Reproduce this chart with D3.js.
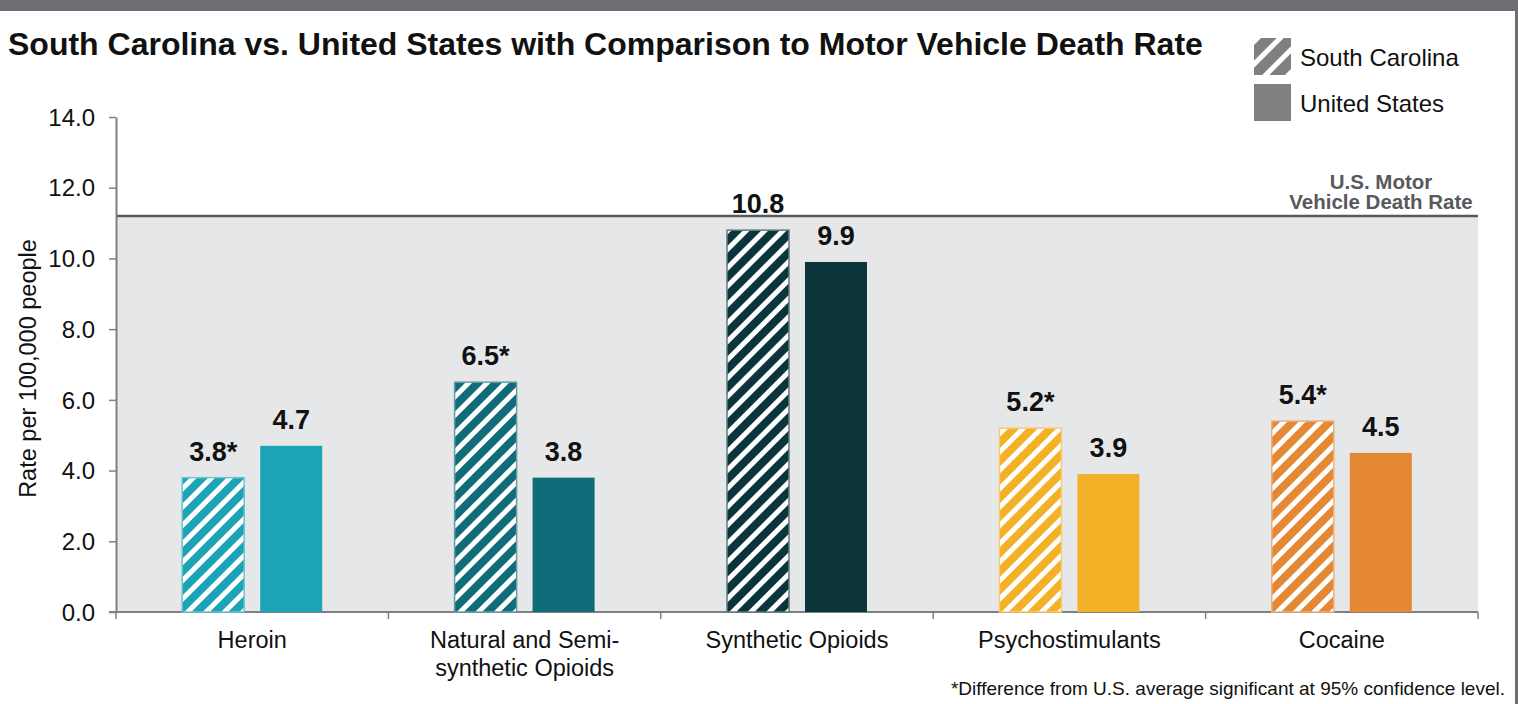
<!DOCTYPE html>
<html>
<head>
<meta charset="utf-8">
<script src="https://cdn.jsdelivr.net/npm/d3@7"></script>
<style>
  html, body { margin: 0; padding: 0; background: #fff; }
  svg { display: block; font-family: "Liberation Sans", Arial, sans-serif; }
</style>
</head>
<body>
<svg id="chart" width="1518" height="704"></svg>
<script>
// Drug overdose death rates per 100,000 people
const categories = ["Heroin", "Natural and Semi-synthetic Opioids", "Synthetic Opioids", "Psychostimulants", "Cocaine"];
const categoryLines = [["Heroin"], ["Natural and Semi-", "synthetic Opioids"], ["Synthetic Opioids"], ["Psychostimulants"], ["Cocaine"]];
const series = ["South Carolina", "United States"];
const southCarolina = [3.8, 6.5, 10.8, 5.2, 5.4];
const unitedStates = [4.7, 3.8, 9.9, 3.9, 4.5];
const significant = [true, true, false, true, true];
const categoryColors = ["#1ca4b6", "#106c78", "#0b343b", "#f2b126", "#e48834"];
const motorVehicleRate = 11.2;
const yTicks = [0, 2, 4, 6, 8, 10, 12, 14];

const svg = d3.select("#chart");
const W = 1518, H = 704;
const plot = { left: 116, right: 1478, top: 117, bottom: 612 };

// frame: dark band along the top and a thin edge on the right
svg.append("rect").attr("x", 0).attr("y", 0).attr("width", W).attr("height", 11).attr("fill", "#6d6e71");
svg.append("rect").attr("x", 1515).attr("y", 0).attr("width", 3).attr("height", H).attr("fill", "#6d6e71");

const x0 = d3.scaleBand().domain(categories).range([plot.left, plot.right]).paddingInner(0).paddingOuter(0);
const groupW = 140;
const x1 = d3.scaleBand().domain(series)
  .range([(x0.bandwidth() - groupW) / 2, (x0.bandwidth() + groupW) / 2])
  .paddingInner(0.205).paddingOuter(0);
const y = d3.scaleLinear().domain([0, 14]).range([plot.bottom, plot.top]);

// hatch patterns, one per colour
const defs = svg.append("defs");
function hatch(id, color, period, stripe) {
  const p = defs.append("pattern").attr("id", id).attr("patternUnits", "userSpaceOnUse")
    .attr("width", period).attr("height", period).attr("patternTransform", "rotate(45)");
  p.append("rect").attr("width", period).attr("height", period).attr("fill", color);
  p.append("rect").attr("x", 0).attr("width", stripe).attr("height", period).attr("fill", "#fff");
}
categoryColors.forEach((c, i) => hatch("hatch" + i, c, 13, 5));
hatch("hatchLegend", "#808080", 16, 5);

// shaded band under the motor vehicle death rate
svg.append("rect")
  .attr("x", plot.left).attr("y", y(motorVehicleRate))
  .attr("width", plot.right - plot.left).attr("height", y(0) - y(motorVehicleRate))
  .attr("fill", "#e6e7e9");
svg.append("line")
  .attr("x1", plot.left).attr("x2", plot.right)
  .attr("y1", y(motorVehicleRate)).attr("y2", y(motorVehicleRate))
  .attr("stroke", "#58595b").attr("stroke-width", 2.4);
const mvLabel = svg.append("text").attr("x", 1381).attr("y", y(motorVehicleRate) - 27)
  .attr("text-anchor", "middle").attr("font-weight", "bold").attr("font-size", 20.5).attr("fill", "#58595b");
mvLabel.append("tspan").attr("x", 1381).attr("dy", 0).text("U.S. Motor");
mvLabel.append("tspan").attr("x", 1381).attr("dy", 20).text("Vehicle Death Rate");

// axes
const yAxis = d3.axisLeft(y).tickValues(yTicks).tickFormat(d3.format(".1f")).tickSize(7).tickSizeOuter(0).tickPadding(14);
const gy = svg.append("g").attr("transform", `translate(${plot.left},0)`).call(yAxis);
gy.select(".domain").attr("stroke", "#808080").attr("stroke-width", 2);
gy.selectAll(".tick line").attr("stroke", "#808080").attr("stroke-width", 1.5);
gy.selectAll(".tick text").attr("font-size", 24).attr("fill", "#111")
  .attr("font-family", "Liberation Sans, Arial, sans-serif").attr("dy", "0.34em");

const boundaries = categories.map(c => x0(c)).concat([plot.right]);
svg.append("line").attr("x1", plot.left - 7).attr("x2", plot.right).attr("y1", y(0)).attr("y2", y(0))
  .attr("stroke", "#808080").attr("stroke-width", 2);
svg.append("g").selectAll("line").data(boundaries).join("line")
  .attr("x1", d => d).attr("x2", d => d).attr("y1", y(0)).attr("y2", y(0) + 7)
  .attr("stroke", "#808080").attr("stroke-width", 1.5);

svg.append("g").selectAll("text").data(categories).join("text")
  .attr("text-anchor", "middle").attr("font-size", 23.5).attr("fill", "#111")
  .attr("transform", d => `translate(${x0(d) + x0.bandwidth() / 2},${y(0) + 36})`)
  .each(function (d, i) {
    const t = d3.select(this);
    categoryLines[i].forEach((ln, k) => t.append("tspan").attr("x", 0).attr("dy", k === 0 ? 0 : 27.5).text(ln));
  });

svg.append("text").attr("transform", `translate(36,${(plot.top + plot.bottom) / 2 + 4}) rotate(-90)`)
  .attr("text-anchor", "middle").attr("font-size", 23.5).attr("fill", "#111").text("Rate per 100,000 people");

// bars
const rows = categories.map((c, i) => ({
  cat: c, i,
  values: [
    { s: series[0], v: southCarolina[i], star: significant[i] },
    { s: series[1], v: unitedStates[i], star: false }
  ]
}));
const groups = svg.append("g").selectAll("g").data(rows).join("g")
  .attr("transform", d => `translate(${x0(d.cat)},0)`);
groups.selectAll("rect").data(d => d.values.map(v => ({ ...v, i: d.i }))).join("rect")
  .attr("x", d => x1(d.s)).attr("width", x1.bandwidth())
  .attr("y", d => y(d.v)).attr("height", d => y(0) - y(d.v))
  .attr("fill", d => d.s === series[0] ? `url(#hatch${d.i})` : categoryColors[d.i])
  .attr("stroke", d => d.s === series[0] ? d3.interpolateRgb(categoryColors[d.i], "#fff")(0.35) : "none")
  .attr("stroke-width", 1.5);
groups.selectAll("text").data(d => d.values).join("text")
  .attr("x", d => x1(d.s) + x1.bandwidth() / 2).attr("y", d => y(d.v) - 17)
  .attr("text-anchor", "middle").attr("font-weight", "bold").attr("font-size", 27).attr("fill", "#111")
  .text(d => d3.format(".1f")(d.v) + (d.star ? "*" : ""));

// title
svg.append("text").attr("x", 8).attr("y", 55).attr("font-weight", "bold").attr("font-size", 32)
  .attr("fill", "#111").text("South Carolina vs. United States with Comparison to Motor Vehicle Death Rate");

// legend
const legend = svg.append("g").attr("transform", "translate(1254,38)");
series.forEach((s, k) => {
  legend.append("rect").attr("x", 0).attr("y", k * 46).attr("width", 37).attr("height", 37)
    .attr("fill", k === 0 ? "url(#hatchLegend)" : "#808080");
  legend.append("text").attr("x", 46).attr("y", k * 46 + 28).attr("font-size", 24).attr("fill", "#111").text(s);
});

// footnote
svg.append("text").attr("x", 1505).attr("y", 695).attr("text-anchor", "end").attr("font-size", 19)
  .attr("fill", "#111").text("*Difference from U.S. average significant at 95% confidence level.");
</script>
</body>
</html>
